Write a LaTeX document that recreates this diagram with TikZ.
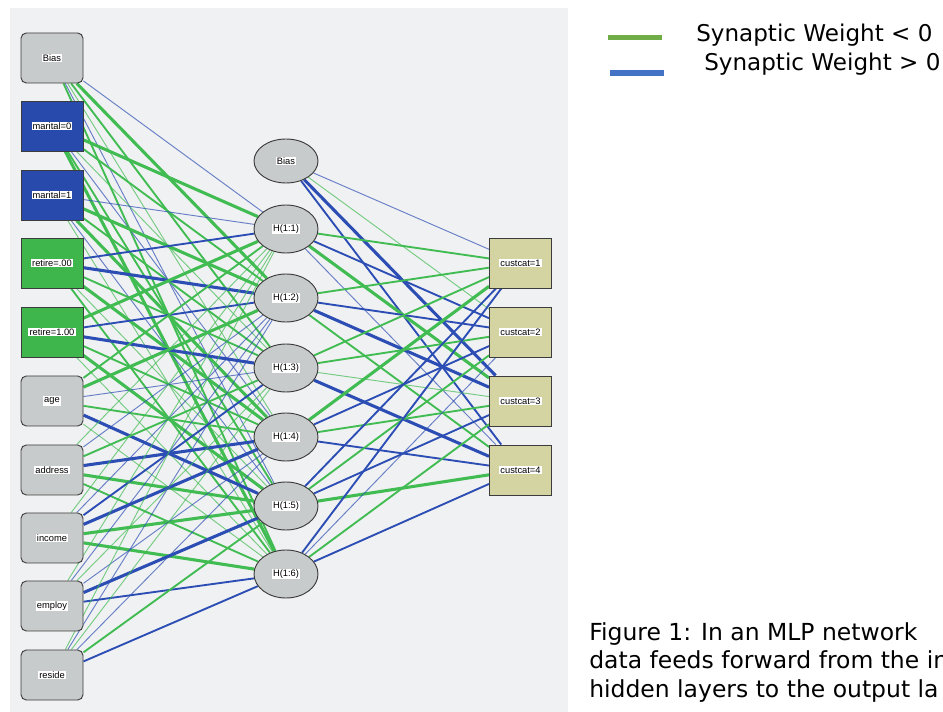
\documentclass[tikz,border=0pt]{standalone}
\usepackage{fontspec}
\setmainfont{Liberation Sans}
\newfontfamily\legfont{DejaVu Sans}
\usetikzlibrary{shapes.geometric}
\pgfdeclarelayer{bg}\pgfdeclarelayer{edges}\pgfsetlayers{bg,edges,main}
\definecolor{panel}{RGB}{240,241,242}
\definecolor{nodegray}{RGB}{200,203,203}
\definecolor{nodeborder}{RGB}{60,60,60}
\definecolor{marblue}{RGB}{40,74,172}
\definecolor{retgreen}{RGB}{62,182,76}
\definecolor{outkhaki}{RGB}{212,211,162}
\definecolor{egreen}{RGB}{64,188,82}
\definecolor{eblue}{RGB}{44,78,180}
\definecolor{leggreen}{RGB}{112,173,71}
\definecolor{legblue}{RGB}{68,114,196}
\newcommand{\lbl}[1]{{\setlength{\fboxsep}{0.8pt}\colorbox{white}{#1}}}
\tikzset{
  inp/.style={draw=nodeborder, line width=0.7pt, minimum width=46.5pt, minimum height=37.5pt, inner sep=0pt, font=\fontsize{7}{8}\selectfont},
  grayin/.style={inp, fill=nodegray, rounded corners=4pt},
  blin/.style={inp, fill=marblue},
  grin/.style={inp, fill=retgreen},
  outn/.style={inp, fill=outkhaki},
  hid/.style={ellipse, draw=nodeborder, line width=0.7pt, fill=nodegray, minimum width=48pt, minimum height=36pt, inner sep=0pt, font=\fontsize{7}{8}\selectfont},
  g1/.style={draw=egreen, line width=0.7pt, draw opacity=0.7},
  g2/.style={draw=egreen, line width=1.4pt},
  g3/.style={draw=egreen, line width=2.3pt},
  b1/.style={draw=eblue, line width=0.7pt, draw opacity=0.7},
  b2/.style={draw=eblue, line width=1.4pt},
  b3/.style={draw=eblue, line width=2.3pt},
  legtext/.style={font=\legfont\fontsize{17.3}{19}\selectfont, anchor=base west, inner sep=0pt},
  captext/.style={font=\legfont\fontsize{17.6}{21}\selectfont, anchor=base west, inner sep=0pt},
}
\begin{document}
\begin{tikzpicture}[x=0.75pt,y=-0.75pt]
\useasboundingbox (0,0) rectangle (943,712);
\clip (0,0) rectangle (943,712);
\begin{pgfonlayer}{bg}
  \fill[white] (0,0) rectangle (943,712);
  \fill[panel] (10,8) rectangle (568,712);
\end{pgfonlayer}
% input layer
\node[grayin] (ib)   at (52,58)  {\lbl{Bias}};
\node[blin]   (m0)   at (52,126) {\lbl{marital=0}};
\node[blin]   (m1)   at (52,195) {\lbl{marital=1}};
\node[grin]   (r0)   at (52,263) {\lbl{retire=.00}};
\node[grin]   (r1)   at (52,332) {\lbl{retire=1.00}};
\node[grayin] (age)  at (52,401) {\lbl{age}};
\node[grayin] (addr) at (52,470) {\lbl{address}};
\node[grayin] (inc)  at (52,538) {\lbl{income}};
\node[grayin] (emp)  at (52,606) {\lbl{employ}};
\node[grayin] (res)  at (52,675) {\lbl{reside}};
% hidden layer
\node[hid, minimum height=33pt] (hb) at (286,161) {\lbl{Bias}};
\node[hid] (h1) at (286,229) {\lbl{H(1:1)}};
\node[hid] (h2) at (286,298) {\lbl{H(1:2)}};
\node[hid] (h3) at (286,368) {\lbl{H(1:3)}};
\node[hid] (h4) at (286,437) {\lbl{H(1:4)}};
\node[hid] (h5) at (286,506) {\lbl{H(1:5)}};
\node[hid] (h6) at (286,574) {\lbl{H(1:6)}};
% output layer
\node[outn] (o1) at (520.5,263) {\lbl{custcat=1}};
\node[outn] (o2) at (520.5,332) {\lbl{custcat=2}};
\node[outn] (o3) at (520.5,401) {\lbl{custcat=3}};
\node[outn] (o4) at (520.5,470) {\lbl{custcat=4}};
% connections
\begin{pgfonlayer}{edges}
\foreach \s/\t/\st in {
  ib/h1/b1, ib/h2/g3, ib/h3/g2, ib/h4/g1, ib/h5/b1, ib/h6/g2,
  m0/h1/g3, m0/h2/g2, m0/h3/g1, m0/h4/b1, m0/h5/g2, m0/h6/g3,
  m1/h1/b1, m1/h2/g3, m1/h3/g2, m1/h4/g3, m1/h5/b1, m1/h6/g1,
  r0/h1/b2, r0/h2/b3, r0/h3/g2, r0/h4/g3, r0/h5/g1, r0/h6/g2,
  r1/h1/g3, r1/h2/b2, r1/h3/b3, r1/h4/g2, r1/h5/g3, r1/h6/g1,
  age/h1/g2, age/h2/g3, age/h3/b1, age/h4/g2, age/h5/b3, age/h6/g1,
  addr/h1/g1, addr/h2/b1, addr/h3/g2, addr/h4/b3, addr/h5/g3, addr/h6/g2,
  inc/h1/g1, inc/h2/b1, inc/h3/b2, inc/h4/b3, inc/h5/g3, inc/h6/g3,
  emp/h1/g1, emp/h2/b1, emp/h3/g1, emp/h4/b1, emp/h5/b3, emp/h6/b2,
  res/h1/g1, res/h2/b1, res/h3/g1, res/h4/b1, res/h5/g2, res/h6/b2,
  hb/o1/b1, hb/o2/g1, hb/o3/b3, hb/o4/b2,
  h1/o1/g2, h1/o2/b2, h1/o3/g3, h1/o4/b1,
  h2/o1/g2, h2/o2/b2, h2/o3/b3, h2/o4/g2,
  h3/o1/g2, h3/o2/g2, h3/o3/g1, h3/o4/b3,
  h4/o1/g3, h4/o2/b2, h4/o3/g2, h4/o4/b2,
  h5/o1/b2, h5/o2/g2, h5/o3/b2, h5/o4/g3,
  h6/o1/b2, h6/o2/b1, h6/o3/g2, h6/o4/b2}
  \draw[\st] (\s) -- (\t);
\end{pgfonlayer}
% legend
\coordinate (lg1) at (608,37.5);
\coordinate (lg2) at (662,37.5);
\coordinate (lb1) at (610,73);
\coordinate (lb2) at (664,73);
\draw[leggreen, line width=3.8pt] (lg1) -- (lg2);
\draw[legblue, line width=3.8pt] (lb1) -- (lb2);
\node[legtext] (leg1) at (696,42) {Synaptic Weight < 0};
\node[legtext] (leg2) at (704,71) {Synaptic Weight > 0};
% caption
\node[captext] (cap1) at (589,641) {Figure 1: In an MLP network};
\node[captext] (cap2) at (589,669) {data feeds forward from the in};
\node[captext] (cap3) at (589,697) {hidden layers to the output la};
\end{tikzpicture}
\end{document}
